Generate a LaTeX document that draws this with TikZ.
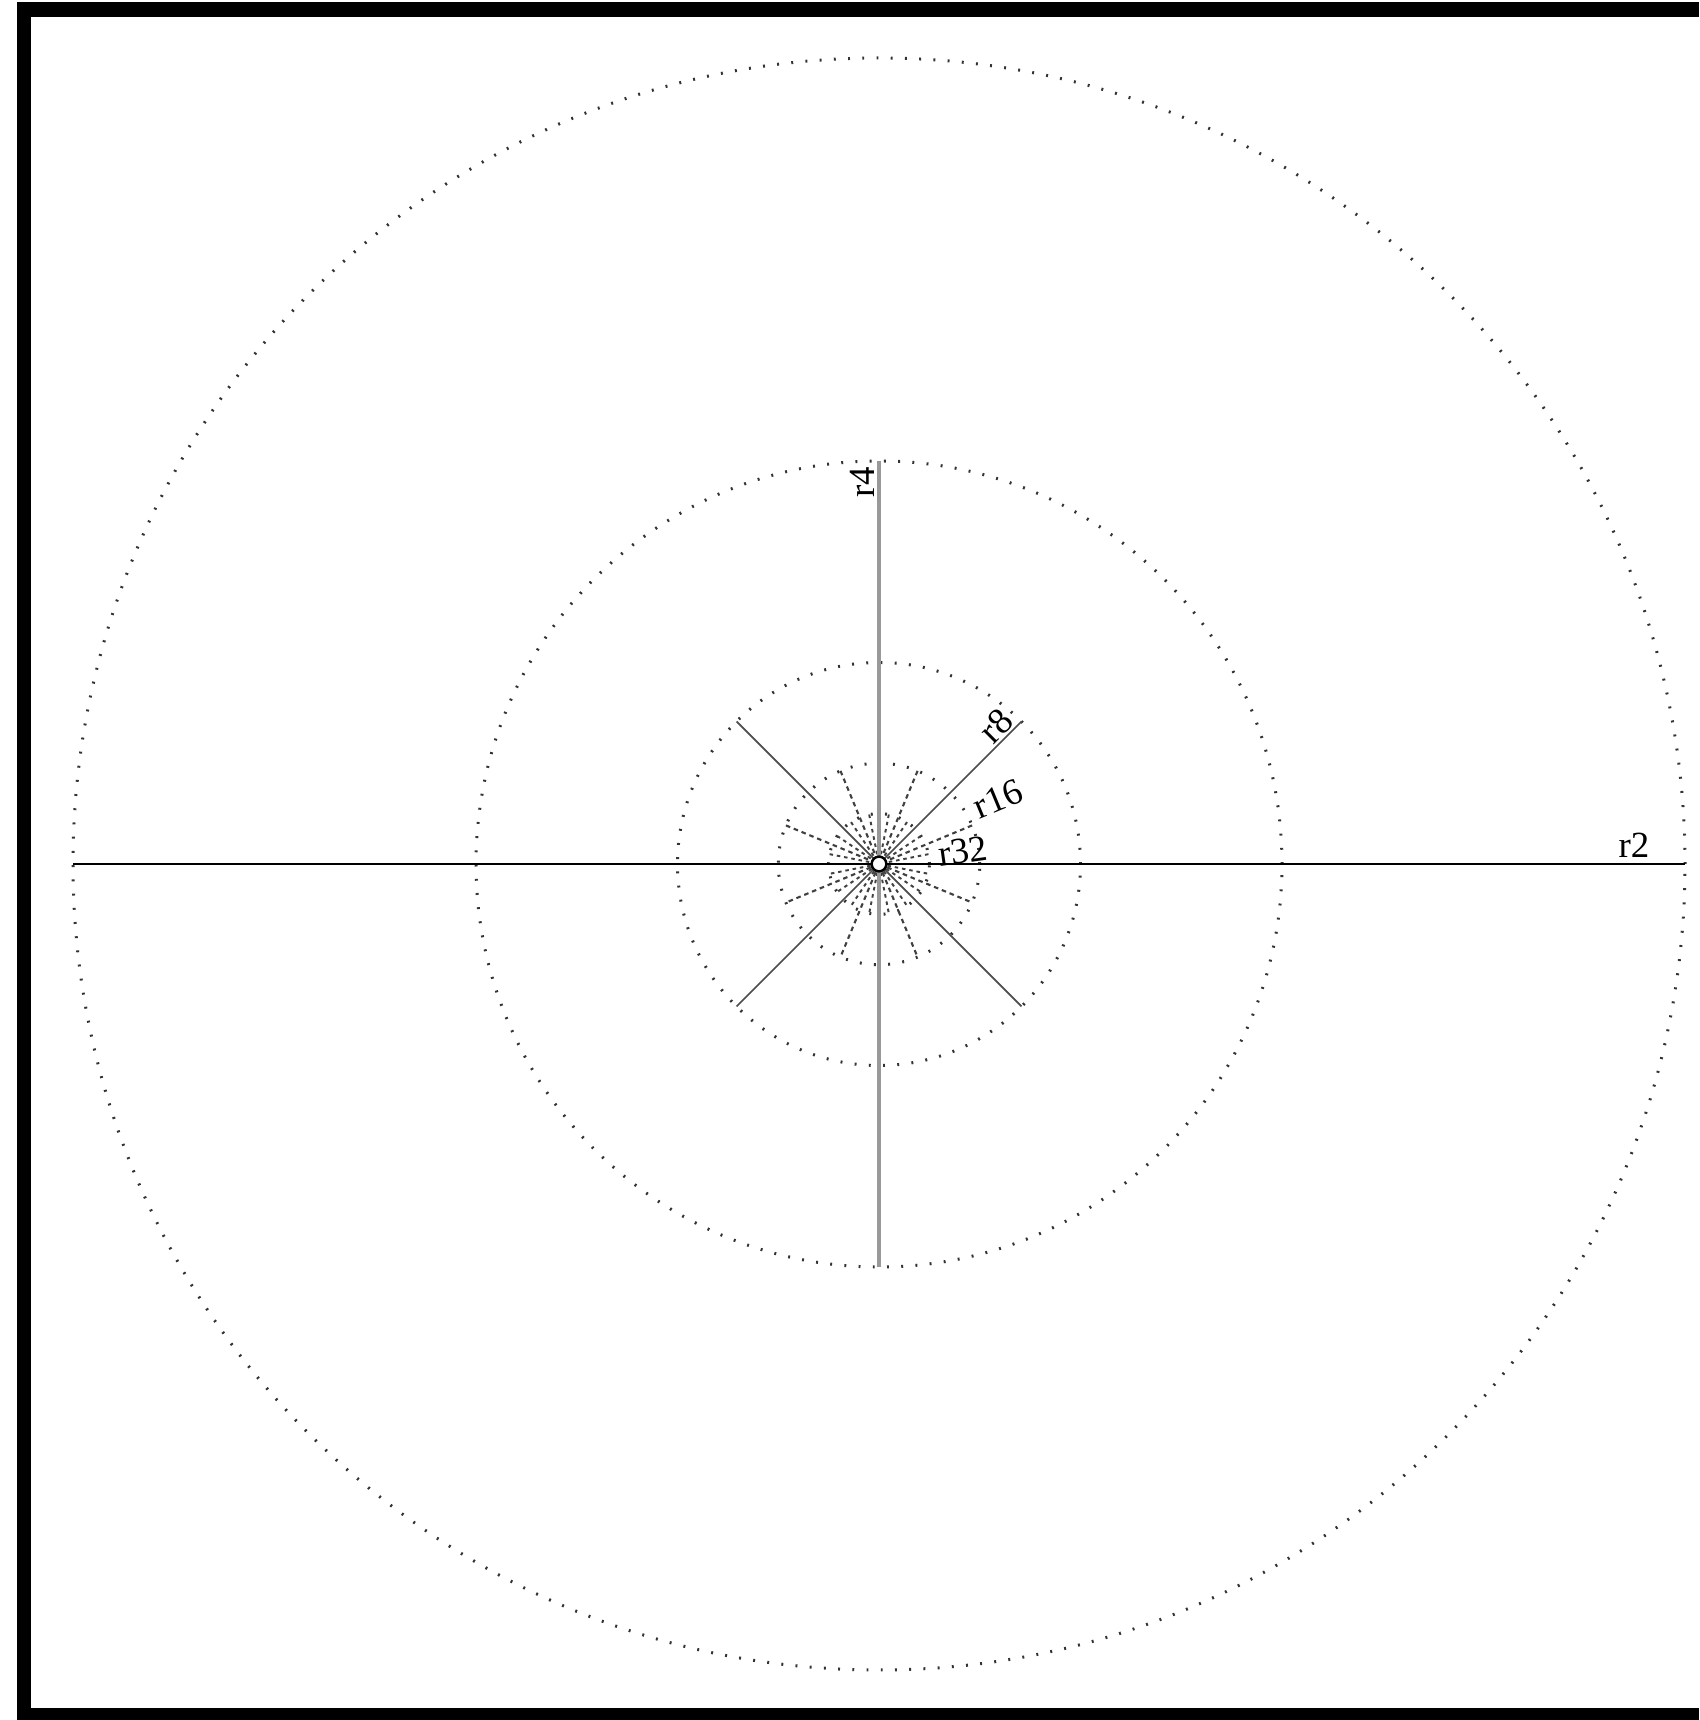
\documentclass[tikz,border=0pt]{standalone}
\usepackage{fontspec}
\setmainfont{Liberation Serif}
\usetikzlibrary{calc}
\tikzset{
  ring/.style={draw=black!80, line width=0.85pt, dash pattern=on 0.55pt off 3.5pt},
  axisline/.style={draw=black, line width=0.75pt},
  vline/.style={draw=black!40, line width=1.3pt},
  diagline/.style={draw=black!70, line width=0.5pt},
  sixteenline/.style={draw=black!75, line width=0.6pt, dash pattern=on 1.3pt off 1.1pt},
  thirtytwoline/.style={draw=black!75, line width=0.55pt, dash pattern=on 1pt off 1.1pt},
  lab/.style={font=\fontsize{10.5}{12}\selectfont, inner sep=0pt},
  hub/.style={circle, draw=black, fill=white, line width=0.7pt, minimum size=4.2pt, inner sep=0pt}
}
\begin{document}
\begin{tikzpicture}[x=0.1mm, y=0.1mm]
\useasboundingbox (0,0) rectangle (1699,1720);
% frame
\fill[black] (17,0) rectangle (31,1718);
\fill[black] (17,1703) rectangle (1699,1718);
\fill[black] (17,0) rectangle (1699,12);
% centre
\coordinate (c) at (879,856);
% rings
\draw[ring] (c) circle (806);
\draw[ring] (c) circle (403);
\draw[ring] (c) circle (201.5);
\draw[ring] (c) circle (100.75);
\draw[ring] (c) circle (50.4);
% r32 lines
\foreach \a in {11.25,33.75,56.25,78.75,101.25,123.75,146.25,168.75}{
  \coordinate (p32a) at ($(c)+(\a:50.4)$);
  \coordinate (p32b) at ($(c)+(\a+180:50.4)$);
  \draw[thirtytwoline] (p32a) -- (p32b);
}
% r16 lines
\foreach \a in {22.5,67.5,112.5,157.5}{
  \coordinate (p16a) at ($(c)+(\a:100.75)$);
  \coordinate (p16b) at ($(c)+(\a+180:100.75)$);
  \draw[sixteenline] (p16a) -- (p16b);
}
% r8 lines
\coordinate (e8a) at ($(c)+(45:201.5)$);
\coordinate (e8b) at ($(c)+(225:201.5)$);
\coordinate (e8c) at ($(c)+(135:201.5)$);
\coordinate (e8d) at ($(c)+(315:201.5)$);
\draw[diagline] (e8a) -- (e8b);
\draw[diagline] (e8c) -- (e8d);
% r4 line
\coordinate (e4a) at ($(c)+(0,403)$);
\coordinate (e4b) at ($(c)+(0,-403)$);
\draw[vline] (e4a) -- (e4b);
% r2 line
\coordinate (e2a) at ($(c)+(-806,0)$);
\coordinate (e2b) at ($(c)+(806,0)$);
\draw[axisline] (e2a) -- (e2b);
% hub
\node[hub] (h) at (c) {};
% labels
\node[lab] (l2) at (1634,875) {r2};
\node[lab, rotate=90] (l4) at (862,1238) {r4};
\node[lab, rotate=45] (l8) at (996,994) {r8};
\node[lab, rotate=22.5] (l16) at (998,921) {r16};
\node[lab, rotate=8] (l32) at (963,869) {r32};
\end{tikzpicture}
\end{document}
